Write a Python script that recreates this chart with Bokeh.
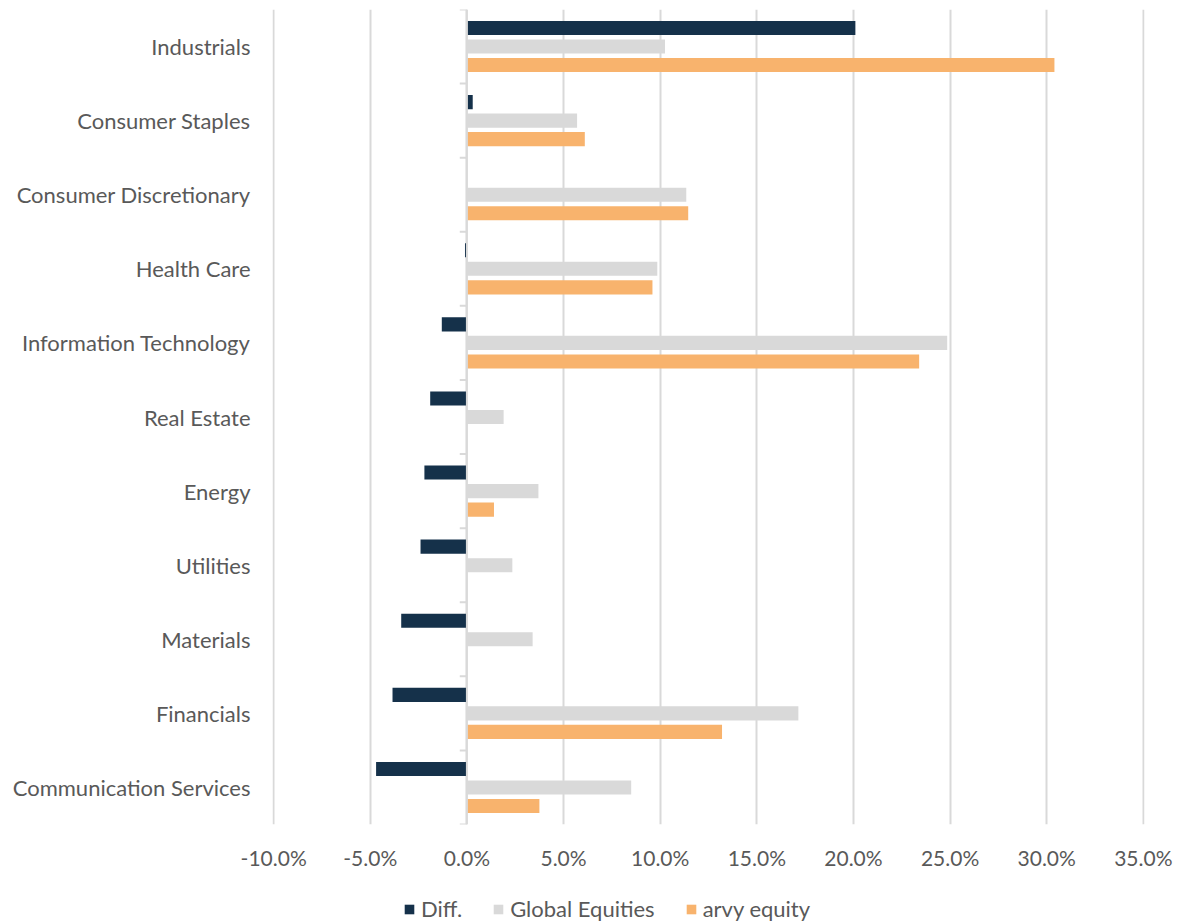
import numpy as np
from bokeh.plotting import figure
from bokeh.layouts import column
from bokeh.models import (Range1d, FixedTicker, PrintfTickFormatter, Span, Legend,
                          LegendItem, ColumnDataSource)
from bokeh.transform import dodge
from bokeh.embed import file_html
from bokeh.resources import INLINE

# ---- data (top to bottom) ----
categories = ["Industrials", "Consumer Staples", "Consumer Discretionary", "Health Care",
              "Information Technology", "Real Estate", "Energy", "Utilities",
              "Materials", "Financials", "Communication Services"]
diff = [20.1, 0.3, 0.0, -0.1, -1.3, -1.9, -2.2, -2.4, -3.4, -3.85, -4.7]
global_equities = [10.25, 5.7, 11.35, 9.85, 24.85, 1.9, 3.7, 2.35, 3.4, 17.15, 8.5]
arvy_equity = [30.4, 6.1, 11.45, 9.6, 23.4, 0.0, 1.4, 0.0, 0.0, 13.2, 3.75]
series_names = ["Diff.", "Global Equities", "arvy equity"]
x_ticks = [-10, -5, 0, 5, 10, 15, 20, 25, 30, 35]

colors = ["#15314A", "#D9D9D9", "#F8B36D"]
fields = ["diff", "glob", "arvy"]
offsets = [0.25, 0.0, -0.25]
FONT = "Lato"
TXT = "#595959"

n = len(categories)
ypos = list(range(n - 1, -1, -1))
src = ColumnDataSource(dict(y=ypos, diff=diff, glob=global_equities, arvy=arvy_equity))

eps = 0.06
p = figure(frame_width=872, frame_height=815,
           x_range=Range1d(x_ticks[0] - eps, x_ticks[-1] + eps),
           y_range=Range1d(-0.5, n - 0.5),
           output_backend="svg", toolbar_location=None,
           min_border_left=272, min_border_right=34, min_border_top=9, min_border_bottom=55)
p.outline_line_color = None
p.background_fill_color = "white"

# grid
p.xgrid.ticker = FixedTicker(ticks=x_ticks)
p.xgrid.grid_line_color = "#D9D9D9"
p.xgrid.grid_line_width = 2
p.ygrid.grid_line_color = None

# x axis
p.xaxis.ticker = FixedTicker(ticks=x_ticks)
p.xaxis.formatter = PrintfTickFormatter(format="%.1f%%")
p.xaxis.axis_line_color = None
p.xaxis.major_tick_line_color = None
p.xaxis.minor_tick_line_color = None
p.xaxis.major_tick_out = 0
p.xaxis.major_tick_in = 0
p.xaxis.major_label_standoff = 20
p.xaxis.major_label_text_font = FONT
p.xaxis.major_label_text_font_size = "21px"
p.xaxis.major_label_text_color = TXT

# y axis (category labels at left)
p.yaxis.ticker = FixedTicker(ticks=ypos)
p.yaxis.major_label_overrides = {y: c for y, c in zip(ypos, categories)}
p.yaxis.axis_line_color = None
p.yaxis.major_tick_line_color = None
p.yaxis.minor_tick_line_color = None
p.yaxis.major_tick_out = 0
p.yaxis.major_tick_in = 0
p.yaxis.major_label_standoff = 22
p.yaxis.major_label_text_font = FONT
p.yaxis.major_label_text_font_size = "22px"
p.yaxis.major_label_text_color = TXT

# bars
h = 0.19
for f, off, c in zip(fields, offsets, colors):
    p.hbar(y=dodge("y", off), left=0, right=f, height=h, source=src,
           fill_color=c, line_color=None)

# vertical category axis at zero with boundary ticks
p.add_layout(Span(location=0, dimension="height", line_color="#D9D9D9", line_width=2))
bounds = np.arange(n + 1) - 0.5
p.segment(x0=[-0.37] * len(bounds), x1=[0] * len(bounds), y0=bounds, y1=bounds,
          line_color="#D9D9D9", line_width=2)

# ---- legend strip below the chart (its bars fall outside its own visible range) ----
lg = figure(width=1178, height=44, x_range=Range1d(0, 1), y_range=Range1d(100, 101),
            output_backend="svg", toolbar_location=None,
            x_axis_location=None, y_axis_location=None, min_border=0)
lg.outline_line_color = None
lg.xgrid.visible = False
lg.ygrid.visible = False
lr = [lg.hbar(y=dodge("y", off), left=0, right=f, height=h, source=src,
              fill_color=c, line_color=None) for f, off, c in zip(fields, offsets, colors)]
legend = Legend(items=[LegendItem(label=s, renderers=[r]) for s, r in zip(series_names, lr)],
                orientation="horizontal", location=(131, 1),
                glyph_width=12, glyph_height=12, label_standoff=6, spacing=30,
                padding=0, margin=0, border_line_color=None, background_fill_alpha=0,
                label_text_font=FONT, label_text_font_size="22px", label_text_color=TXT)
lg.add_layout(legend, "center")

layout = column(p, lg, spacing=0)
open("out.html", "w").write(file_html(layout, INLINE))
